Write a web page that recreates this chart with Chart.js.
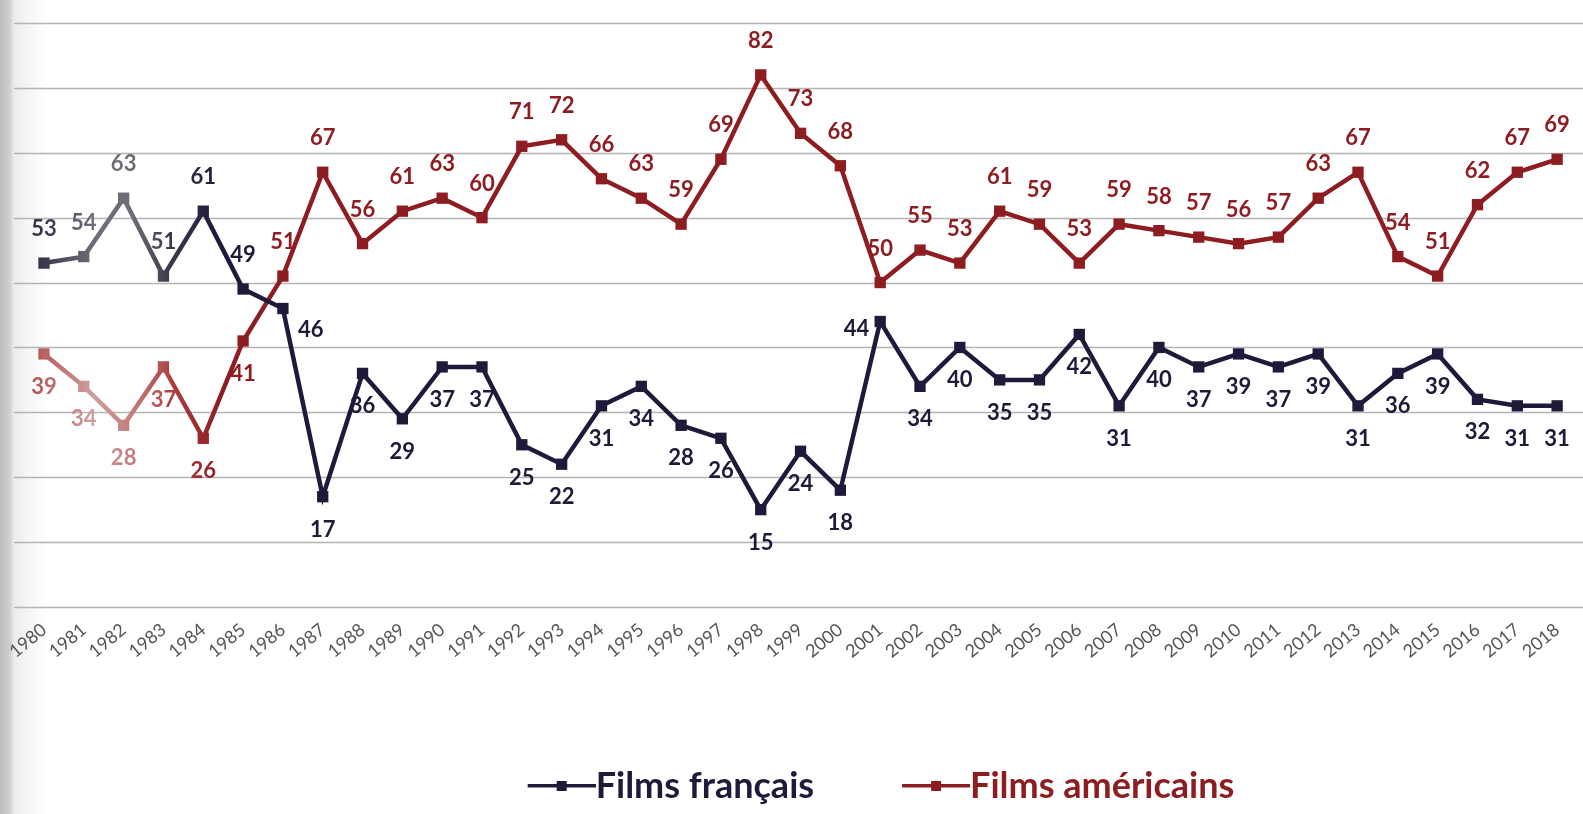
<!DOCTYPE html>
<html>
<head>
<meta charset="utf-8">
<script src="https://cdn.jsdelivr.net/npm/chart.js@4.4.1/dist/chart.umd.min.js"></script>
<style>
  html, body { margin: 0; padding: 0; }
  body {
    width: 1583px; height: 814px; overflow: hidden;
    background: linear-gradient(to right, #bdbdbd 0px, #cfcfcf 10px, #ececec 14px, #f7f7f7 30px, #ffffff 48px);
  }
  #wrap { position: relative; width: 1583px; height: 814px; }
</style>
</head>
<body>
<div id="wrap"><canvas id="c" width="1583" height="814"></canvas></div>
<script>
// ---- data ----
const years = ['1980','1981','1982','1983','1984','1985','1986','1987','1988','1989',
  '1990','1991','1992','1993','1994','1995','1996','1997','1998','1999',
  '2000','2001','2002','2003','2004','2005','2006','2007','2008','2009',
  '2010','2011','2012','2013','2014','2015','2016','2017','2018'];
const filmsFrancais = [53,54,63,51,61,49,46,17,36,29,
  37,37,25,22,31,34,28,26,15,24,
  18,44,34,40,35,35,42,31,40,37,
  39,37,39,31,36,39,32,31,31];
const filmsAmericains = [39,34,28,37,26,41,51,67,56,61,
  63,60,71,72,66,63,59,69,82,73,
  68,50,55,53,61,59,53,59,58,57,
  56,57,63,67,54,51,62,67,69];
const seriesNames = ['Films français', 'Films américains'];

// label placement (a = above, b = below, l = left, br = below-right)
const placeFr = ['a','a','a','a','a','a','br','b','b','b',
  'b','b','b','b','b','b','b','b','b','b',
  'b','l','b','b','b','b','b','b','b','b',
  'b','b','b','b','b','b','b','b','b'];
const placeUs = ['b','b','b','b','b','b','a','a','a','a',
  'a','a','a','a','a','a','a','a','a','a',
  'a','a','a','a','a','a','a','a','a','a',
  'a','a','a','a','a','a','a','a','a'];

// ---- styles ----
const W = 1583;
const navy = '#1e1b3a';
const red = '#8e1d22';
const ctx = document.getElementById('c').getContext('2d');
function fadeGrad(stops) {
  const g = ctx.createLinearGradient(0, 0, W, 0);
  stops.forEach(s => g.addColorStop(s[0] / W, s[1]));
  return g;
}
const navyGrad = fadeGrad([[0,'#2c2c40'],[40,'#34344a'],[93,'#6e6e78'],[133,'#6c6c74'],[170,'#3a3a4c'],[215,navy],[W,navy]]);
const redGrad = fadeGrad([[0,'#9e2c30'],[45,'#b86264'],[93,'#cf9e9c'],[133,'#c27d7b'],[175,'#a83c3e'],[220,red],[W,red]]);

const ICON_BOX = 50, ICON_GAP = 18;
const legendIcon = (color) => {
  const c = document.createElement('canvas');
  c.width = ICON_BOX + 2 * ICON_GAP; c.height = 14;
  const x = c.getContext('2d');
  x.fillStyle = color;
  x.fillRect(ICON_GAP, 5, ICON_BOX + ICON_GAP, 3.5);
  x.fillRect(ICON_GAP + 29, 2, 10, 10);
  return c;
};
const icons = [legendIcon(navy), legendIcon(red)];
const legendColors = [navy, red];

const labelFont = 'bold 22px Lato';
const dataLabels = {
  id: 'dataLabels',
  afterDatasetsDraw(chart) {
    const c = chart.ctx;
    const places = [placeFr, placeUs];
    c.save();
    c.font = labelFont;
    c.textBaseline = 'alphabetic';
    chart.data.datasets.forEach((ds, i) => {
      const meta = chart.getDatasetMeta(i);
      c.fillStyle = ds.borderColor;
      meta.data.forEach((pt, j) => {
        const txt = String(ds.data[j]);
        const p = places[i][j];
        let x = pt.x, y = pt.y;
        if (p === 'a') { c.textAlign = 'center'; y -= 27; }
        else if (p === 'b') { c.textAlign = 'center'; y += 40; }
        else if (p === 'l') { c.textAlign = 'right'; x -= 11; y += 15; }
        else if (p === 'br') { c.textAlign = 'left'; x += 15; y += 28; }
        c.fillText(txt, x, y);
      });
    });
    c.restore();
  }
};

const wideGrid = {
  id: 'wideGrid',
  beforeDatasetsDraw(chart) {
    const c = chart.ctx;
    const ys = chart.scales.y;
    c.save();
    c.strokeStyle = '#b4b4b4';
    c.lineWidth = 1.6;
    ys.ticks.forEach(t => {
      const y = Math.round(ys.getPixelForValue(t.value)) + 0.5;
      c.beginPath();
      c.moveTo(14, y);
      c.lineTo(chart.width, y);
      c.stroke();
    });
    c.restore();
  }
};

new Chart(ctx, {
  type: 'line',
  data: {
    labels: years,
    datasets: [
      { label: seriesNames[0], data: filmsFrancais, borderColor: navyGrad, backgroundColor: navyGrad,
        pointBackgroundColor: navyGrad, pointBorderColor: navyGrad, borderWidth: 4.5,
        pointStyle: 'rect', pointRadius: 8, pointBorderWidth: 0, tension: 0, fill: false },
      { label: seriesNames[1], data: filmsAmericains, borderColor: redGrad, backgroundColor: redGrad,
        pointBackgroundColor: redGrad, pointBorderColor: redGrad, borderWidth: 4.5,
        pointStyle: 'rect', pointRadius: 8, pointBorderWidth: 0, tension: 0, fill: false }
    ]
  },
  options: {
    responsive: false,
    animation: false,
    events: [],
    layout: { autoPadding: false, padding: { left: 30, right: -149, top: 23, bottom: 0 } },
    scales: {
      x: {
        offset: false,
        border: { display: false },
        grid: { display: false, drawTicks: false },
        ticks: { autoSkip: false, minRotation: 40, maxRotation: 40, padding: 12,
          color: '#555', font: { family: 'Lato', size: 18 } },
        afterFit(s) { s.height = 73; }
      },
      y: {
        display: false,
        min: 0, max: 90,
        ticks: { stepSize: 10 }
      },
      yr: {
        position: 'right',
        display: true,
        min: 0, max: 90,
        border: { display: false },
        grid: { display: false, drawTicks: false },
        ticks: { display: false },
        afterFit(s) { s.width = 165; }
      }
    },
    plugins: {
      tooltip: { enabled: false },
      legend: {
        position: 'bottom',
        labels: {
          usePointStyle: true,
          pointStyleWidth: ICON_BOX,
          boxHeight: 14,
          padding: 88,
          font: { family: 'Lato', size: 36, weight: 'bold' },
          generateLabels(chart) {
            return chart.data.datasets.map((ds, i) => ({
              text: ds.label,
              fontColor: legendColors[i],
              pointStyle: icons[i],
              lineWidth: 0,
              strokeStyle: 'rgba(0,0,0,0)',
              fillStyle: legendColors[i],
              hidden: false,
              datasetIndex: i
            }));
          }
        }
      }
    }
  },
  plugins: [wideGrid, dataLabels]
});
</script>
</body>
</html>
